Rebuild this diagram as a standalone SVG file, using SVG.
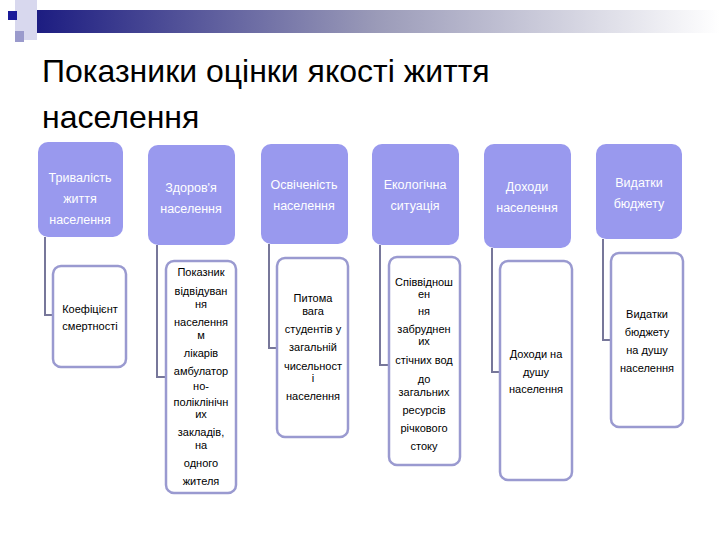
<svg xmlns="http://www.w3.org/2000/svg" width="720" height="540" viewBox="0 0 720 540">
<style>
.t{font-family:"Liberation Sans",Arial,sans-serif;fill:#fff;font-size:12.5px;text-anchor:middle}
.c{font-family:"Liberation Sans",Arial,sans-serif;fill:#000;font-size:11px;text-anchor:middle}
.h{fill:#9999ee;}
.b{fill:#fff;stroke:#9a9ad0;stroke-width:2.5}
.l{fill:none;stroke:#77779a;stroke-width:2}
</style>
<defs><linearGradient id="g" x1="0" x2="1"><stop offset="0" stop-color="#1a1a80"/><stop offset="0.5" stop-color="#9a9ab8"/><stop offset="1" stop-color="#fff"/></linearGradient></defs>
<rect width="720" height="540" fill="#fff"/>
<rect x="30" y="10" width="690" height="23" fill="url(#g)"/>
<rect x="15" y="0" width="22" height="40" fill="#d8d8ee"/>
<rect x="8" y="11" width="9" height="9" fill="#1a1a99"/>
<rect x="15" y="31" width="9" height="11" fill="#9a9acc"/>
<text x="42" y="82" font-family="Liberation Sans,Arial,sans-serif" font-size="32" fill="#000">Показники оцінки якості життя</text>
<text x="42" y="128" font-family="Liberation Sans,Arial,sans-serif" font-size="32" fill="#000">населення</text>
<g id="connectors">
<path class="l" d="M45 237V315H53"/>
<path class="l" d="M157 245V377H166"/>
<path class="l" d="M269 244V348H277"/>
<path class="l" d="M380 245V365H389"/>
<path class="l" d="M492 248V372H500"/>
<path class="l" d="M603 239V340H611"/>
</g>
<g id="h1"><rect class="h" x="38" y="142" width="85" height="95" rx="10"/><text class="t" x="80" y="182">Тривалість</text><text class="t" x="80" y="203">життя</text><text class="t" x="80" y="224">населення</text></g>
<g id="h2"><rect class="h" x="148" y="145" width="87" height="100" rx="10"/><text class="t" x="191" y="192">Здоров'я</text><text class="t" x="191" y="213">населення</text></g>
<g id="h3"><rect class="h" x="261" y="144" width="87" height="100" rx="10"/><text class="t" x="304" y="189">Освіченість</text><text class="t" x="304" y="210">населення</text></g>
<g id="h4"><rect class="h" x="372" y="144" width="87" height="101" rx="10"/><text class="t" x="415" y="189">Екологічна</text><text class="t" x="415" y="210">ситуація</text></g>
<g id="h5"><rect class="h" x="484" y="144" width="87" height="104" rx="10"/><text class="t" x="527" y="191">Доходи</text><text class="t" x="527" y="212">населення</text></g>
<g id="h6"><rect class="h" x="596" y="144" width="86" height="95" rx="10"/><text class="t" x="639" y="187">Видатки</text><text class="t" x="639" y="208">бюджету</text></g>
<g id="c1"><rect class="b" x="53" y="266" width="73" height="101" rx="8"/><text class="c" x="90" y="313">Коефіцієнт</text><text class="c" x="90" y="330">смертності</text></g>
<g id="c2"><rect class="b" x="166" y="261" width="70" height="232" rx="8"/>
<text class="c" x="201" y="276">Показник</text><text class="c" x="201" y="295">відвідуван</text><text class="c" x="201" y="308">ня</text><text class="c" x="201" y="326">населення</text><text class="c" x="201" y="339">м</text><text class="c" x="201" y="357">лікарів</text><text class="c" x="201" y="375">амбулатор</text><text class="c" x="201" y="390">но-</text><text class="c" x="201" y="406">поліклінічн</text><text class="c" x="201" y="418">их</text><text class="c" x="201" y="436">закладів,</text><text class="c" x="201" y="449">на</text><text class="c" x="201" y="467">одного</text><text class="c" x="201" y="485">жителя</text></g>
<g id="c3"><rect class="b" x="277" y="258" width="71" height="179" rx="8"/>
<text class="c" x="313" y="302">Питома</text><text class="c" x="313" y="315">вага</text><text class="c" x="313" y="333">студентів у</text><text class="c" x="313" y="351">загальній</text><text class="c" x="313" y="370">чисельност</text><text class="c" x="313" y="382">і</text><text class="c" x="313" y="400">населення</text></g>
<g id="c4"><rect class="b" x="389" y="257" width="71" height="208" rx="8"/>
<text class="c" x="424" y="286">Співвіднош</text><text class="c" x="424" y="298">ен</text><text class="c" x="424" y="315">ня</text><text class="c" x="424" y="333">забруднен</text><text class="c" x="424" y="345">их</text><text class="c" x="424" y="364">стічних вод</text><text class="c" x="424" y="383">до</text><text class="c" x="424" y="396">загальних</text><text class="c" x="424" y="414">ресурсів</text><text class="c" x="424" y="432">річкового</text><text class="c" x="424" y="450">стоку</text></g>
<g id="c5"><rect class="b" x="500" y="261" width="72" height="219" rx="8"/>
<text class="c" x="536" y="358">Доходи на</text><text class="c" x="536" y="376">душу</text><text class="c" x="536" y="393">населення</text></g>
<g id="c6"><rect class="b" x="611" y="253" width="72" height="174" rx="8"/>
<text class="c" x="647" y="318">Видатки</text><text class="c" x="647" y="336">бюджету</text><text class="c" x="647" y="354">на душу</text><text class="c" x="647" y="372">населення</text></g>
</svg>
